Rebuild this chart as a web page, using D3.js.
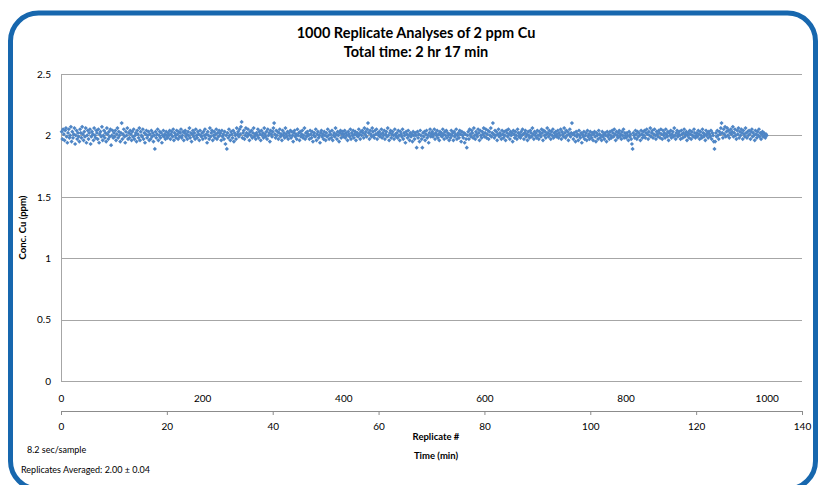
<!DOCTYPE html>
<html>

<head>
    <meta charset="utf-8">
    <title>1000 Replicate Analyses of 2 ppm Cu</title>
    <style>
        body { margin: 0; background: #fff; }
        text { font-family: Lato, "Open Sans", sans-serif; fill: #000; }
    </style>
</head>

<body>
    <svg id="cu_chart" width="820" height="485"></svg>
</body>
<script src="https://cdn.jsdelivr.net/npm/d3@7/dist/d3.min.js"></script>

<script>

    // Cu concentration (ppm) for each replicate, 25 per row
    const concValues = [
        2.03,1.97,2.05,2.01,1.96,2.04,2.06,1.99,1.94,2.02,2.05,1.98,2.00,2.07,1.95,2.03,1.98,2.01,2.06,1.93,2.00,2.04,1.97,2.02,1.99,
        1.95,2.05,2.02,1.98,2.07,2.01,1.96,2.03,1.99,2.06,1.94,2.00,2.04,1.97,2.02,2.05,1.93,1.99,2.03,2.01,1.96,2.06,2.00,1.98,2.04,
        2.02,1.97,2.05,1.94,2.01,2.03,1.99,2.07,1.96,2.00,2.04,1.98,2.02,1.95,2.06,2.01,1.97,2.03,1.99,2.05,1.92,2.00,2.04,1.98,2.02,
        1.99,2.04,1.96,2.01,2.06,1.98,2.03,2.00,1.95,2.02,2.10,1.97,2.01,2.05,1.99,1.94,2.03,2.00,2.06,1.97,2.02,1.98,2.04,2.01,1.96,
        2.03,1.99,2.05,1.97,2.00,2.02,1.95,2.04,2.01,1.98,2.06,1.96,2.03,2.00,1.99,2.05,1.97,2.02,1.94,2.01,2.04,1.98,2.00,2.03,1.96,
        2.01,1.97,2.04,1.99,2.02,1.95,2.00,1.89,2.03,1.98,2.01,2.05,1.96,2.00,2.03,1.98,2.02,1.94,2.00,2.04,1.99,2.01,1.97,2.03,2.00,
        1.98,2.02,2.00,2.04,1.97,2.01,2.03,1.99,2.05,1.96,2.02,2.00,1.98,2.04,2.01,1.97,2.03,1.99,2.02,2.05,1.98,2.00,2.03,1.96,2.02,
        2.04,1.99,2.01,1.97,2.03,2.00,2.06,1.98,2.02,1.95,2.01,2.04,1.99,2.02,1.97,2.05,2.00,1.98,2.03,2.01,1.96,2.04,2.00,1.99,2.02,
        1.97,2.03,2.00,2.05,1.98,2.01,1.94,2.03,2.00,1.97,2.06,1.99,2.02,2.04,1.96,2.00,2.03,1.98,2.01,2.05,1.97,2.02,1.99,2.04,2.00,
        2.02,1.96,2.04,1.99,2.01,1.97,2.03,1.93,2.00,1.89,2.02,1.98,2.05,2.00,1.96,2.03,2.01,1.98,2.04,1.95,2.02,2.00,1.97,2.06,2.01,
        2.03,1.99,2.05,2.01,2.07,2.11,1.98,2.02,2.04,1.97,2.00,2.06,2.02,1.99,2.05,2.01,1.96,2.03,2.00,2.04,1.98,2.02,2.06,1.99,2.01,
        1.97,2.02,2.00,2.05,1.98,2.03,2.01,1.96,2.04,2.00,2.02,1.98,2.06,2.01,1.99,2.03,1.97,2.05,2.00,2.02,1.95,2.04,2.01,1.99,2.03,
        2.06,2.10,2.01,1.98,2.04,2.00,2.03,1.97,2.02,2.05,1.99,2.01,1.96,2.04,2.00,2.02,1.98,2.06,2.01,1.99,2.03,1.97,2.02,2.00,2.04,
        1.98,2.03,2.00,1.95,2.02,2.04,1.99,2.01,1.97,2.05,2.00,2.02,1.96,2.03,1.99,2.01,2.04,1.98,2.00,2.06,1.97,2.02,1.99,2.03,2.01,
        2.00,1.97,2.04,2.01,1.98,2.03,1.95,2.00,2.02,1.99,2.05,1.96,2.01,2.03,1.98,2.00,1.94,2.02,2.04,1.99,2.01,1.97,2.03,2.00,1.96,
        2.02,1.99,2.05,2.00,1.97,2.03,2.01,1.98,2.04,1.96,2.00,2.02,1.99,2.06,2.01,1.97,2.03,2.00,1.95,2.02,2.04,1.98,2.01,2.03,1.99,
        2.01,2.04,1.98,2.02,2.00,1.96,2.03,2.01,1.99,2.05,1.97,2.02,2.00,2.04,1.98,2.01,2.03,1.96,2.00,2.02,1.99,2.05,2.01,1.97,2.03,
        2.00,2.04,2.02,1.98,2.06,2.01,2.03,1.99,2.05,2.10,2.02,1.97,2.04,2.01,1.99,2.06,2.03,2.00,1.98,2.04,2.01,2.05,1.97,2.02,2.00,
        2.03,1.99,2.01,2.05,1.98,2.02,2.00,2.04,1.97,2.01,2.03,1.99,2.06,2.00,1.96,2.02,2.04,1.98,2.01,2.03,2.00,1.97,2.05,2.01,1.99,
        2.02,1.98,2.04,2.00,1.96,2.03,2.01,1.99,2.05,1.97,2.02,2.00,1.94,2.03,2.01,1.98,2.04,2.00,1.96,2.02,1.99,2.01,1.95,2.03,2.00,
        1.97,2.02,2.00,1.90,2.03,1.98,2.01,1.95,2.04,2.00,1.97,1.90,2.02,1.99,2.03,1.96,2.01,2.04,1.98,2.00,1.94,2.02,2.05,1.99,2.01,
        2.03,1.99,2.01,2.05,1.97,2.02,2.00,2.04,1.98,2.01,1.96,2.03,2.00,2.02,1.99,2.05,2.01,1.97,2.03,2.00,2.04,1.98,2.02,2.00,1.96,
        2.01,1.98,2.04,2.00,2.02,1.96,2.03,1.99,2.01,2.05,1.97,2.00,2.02,1.98,2.04,2.01,1.95,2.03,2.00,1.98,2.02,1.94,2.01,1.97,1.90,
        2.00,2.03,1.97,2.05,2.01,1.99,2.04,2.02,1.98,2.06,2.00,1.97,2.03,2.01,1.99,2.05,2.02,1.96,2.04,2.00,1.98,2.03,2.01,2.06,1.99,
        2.02,2.05,1.98,2.01,2.04,1.97,2.03,2.00,2.06,1.99,2.02,2.10,2.01,1.98,2.04,2.00,2.03,1.96,2.01,2.05,1.99,2.02,2.00,1.97,2.04,
        2.01,1.98,2.03,2.00,1.96,2.04,2.02,1.99,2.05,2.01,1.97,2.03,2.00,2.02,1.95,2.04,2.01,1.98,2.03,2.00,1.97,2.05,2.02,1.99,2.01,
        1.98,2.03,2.00,2.05,2.01,1.97,2.02,2.04,1.99,2.01,1.96,2.03,2.00,1.98,2.04,2.02,1.99,2.06,2.01,1.97,2.03,2.00,2.02,1.98,2.04,
        2.00,1.97,2.03,2.01,1.99,2.05,2.02,1.96,2.04,2.00,2.03,1.98,2.01,2.06,2.02,1.99,2.04,2.01,1.97,2.03,2.00,2.05,1.98,2.02,2.00,
        2.03,1.99,2.01,2.04,1.98,2.02,2.00,2.05,1.97,2.03,2.01,1.99,2.06,2.02,1.98,2.04,2.00,2.03,1.96,2.01,2.05,1.99,2.02,2.10,2.01,
        1.97,2.02,2.00,1.95,2.03,1.99,2.01,1.96,2.04,2.00,1.98,2.02,1.94,2.01,1.99,2.03,1.97,2.00,2.02,1.96,2.04,1.99,2.01,1.97,2.03,
        2.00,1.98,2.02,1.96,2.01,2.03,1.99,1.95,2.02,2.00,1.97,2.04,2.01,1.98,2.00,1.96,2.03,1.99,2.01,1.97,2.02,2.00,1.95,2.03,1.99,
        2.01,1.97,2.03,2.00,1.98,2.04,2.02,1.99,2.05,2.01,1.96,2.03,2.00,1.98,2.02,2.04,1.99,2.01,1.97,2.03,2.00,2.05,1.98,2.02,2.00,
        1.98,2.02,2.00,1.96,2.03,1.99,2.01,1.97,1.93,1.89,2.02,2.00,1.98,2.04,2.01,1.97,2.03,1.99,2.02,2.00,1.96,2.04,2.01,1.98,2.03,
        2.00,2.04,1.98,2.02,2.05,2.01,1.97,2.03,2.00,2.06,1.99,2.02,2.04,1.98,2.01,2.05,2.00,1.97,2.03,2.01,1.99,2.04,2.02,1.98,2.05,
        2.01,1.97,2.04,2.00,2.02,1.98,2.05,2.01,1.99,2.03,1.96,2.02,2.00,2.04,1.98,2.01,2.03,1.99,2.06,2.00,1.97,2.02,2.04,1.99,2.01,
        2.03,2.00,1.97,2.04,2.01,1.98,2.02,2.05,1.99,2.01,2.03,1.96,2.00,2.02,1.98,2.04,2.01,1.97,2.03,2.00,1.99,2.05,2.02,1.98,2.00,
        2.02,1.99,2.04,2.01,1.97,2.03,2.00,1.98,2.05,2.02,1.99,2.01,1.96,2.04,2.00,2.02,1.98,2.03,2.01,1.99,2.04,1.97,2.02,2.00,1.95,
        1.89,1.95,2.02,1.99,2.04,2.00,1.97,2.03,2.01,2.06,2.10,2.02,1.98,2.05,2.01,2.07,1.99,2.03,2.06,2.00,2.04,1.98,2.02,2.05,2.01,
        2.03,2.07,1.99,2.02,2.05,2.00,1.97,2.04,2.01,2.06,1.98,2.03,2.00,2.05,2.02,1.97,2.04,2.01,1.99,2.06,2.02,1.98,2.03,2.00,2.04,
        2.01,1.97,2.03,2.05,1.99,2.02,2.00,1.96,2.04,2.01,1.98,2.03,2.00,2.05,1.99,2.02,1.97,2.01,2.03,1.99,2.02,2.00,1.98,2.01,2.00
    ];

    const yTicks = [0, 0.5, 1, 1.5, 2, 2.5];
    const replicateTicks = [0, 200, 400, 600, 800, 1000];
    const timeTicks = [0, 20, 40, 60, 80, 100, 120, 140];

    const titleLines = ["1000 Replicate Analyses of 2 ppm Cu", "Total time: 2 hr 17 min"];
    const notes = ["8.2 sec/sample", "Replicates Averaged: 2.00 \u00b1 0.04"];

    const plot = { left: 61, right: 802, top: 74, bottom: 381 };
    const gridColor = "#a6a6a6";
    const pointColor = "#4f86c6";

    const svg = d3.select("#cu_chart");

    // rounded blue frame
    svg.append("rect")
        .attr("x", 10.5).attr("y", 13)
        .attr("width", 805).attr("height", 476)
        .attr("rx", 28).attr("ry", 28)
        .attr("fill", "none")
        .attr("stroke", "#1767ae")
        .attr("stroke-width", 5);

    let x = d3.scaleLinear().domain([0, 1050]).range([plot.left, plot.right]);
    let xTime = d3.scaleLinear().domain([0, 140]).range([plot.left, plot.right]);
    let y = d3.scaleLinear().domain([0, 2.5]).range([plot.bottom, plot.top]);

    // gridlines + y labels
    const gy = svg.append("g")
        .attr("transform", `translate(${plot.left},0)`)
        .call(d3.axisLeft(y).tickValues(yTicks).tickFormat(d3.format("")).tickSize(-(plot.right - plot.left)).tickPadding(10));
    gy.select(".domain").remove();
    gy.selectAll(".tick line").attr("stroke", gridColor).attr("shape-rendering", "crispEdges");
    gy.selectAll("text").attr("font-size", "10px").attr("font-family", "Lato, sans-serif").attr("fill", "#000");

    svg.append("line")
        .attr("x1", plot.left).attr("x2", plot.left)
        .attr("y1", plot.top).attr("y2", plot.bottom)
        .attr("stroke", gridColor).attr("shape-rendering", "crispEdges");

    // replicate # axis: labels only, sits on the y=0 line
    const gx = svg.append("g")
        .attr("transform", `translate(0,${plot.bottom})`)
        .call(d3.axisBottom(x).tickValues(replicateTicks).tickFormat(d3.format("d")).tickSize(0).tickPadding(14));
    gx.select(".domain").remove();
    gx.selectAll("text").attr("font-size", "10px").attr("font-family", "Lato, sans-serif").attr("fill", "#000");

    // time axis below
    const gt = svg.append("g")
        .attr("transform", `translate(0,411)`)
        .call(d3.axisBottom(xTime).tickValues(timeTicks).tickSizeInner(4).tickSizeOuter(4).tickPadding(8));
    gt.select(".domain").attr("stroke", "#8c8c8c");
    gt.selectAll(".tick line").attr("stroke", "#8c8c8c");
    gt.selectAll("text").attr("font-size", "10px").attr("font-family", "Lato, sans-serif").attr("fill", "#000");

    // points
    const diamond = "M0,-2.1L2.1,0L0,2.1L-2.1,0Z";
    svg.append("g")
        .selectAll("path")
        .data(concValues)
        .join("path")
        .attr("d", diamond)
        .attr("transform", (d, i) => `translate(${x(i + 1)},${y(d)})`)
        .attr("fill", pointColor);

    // titles
    svg.selectAll(".title")
        .data(titleLines)
        .join("text")
        .attr("class", "title")
        .attr("x", 416)
        .attr("y", (d, i) => 38 + i * 19)
        .attr("text-anchor", "middle")
        .attr("font-weight", "bold")
        .attr("font-size", "14.5px")
        .text(d => d);

    svg.append("text")
        .attr("transform", `translate(26,${(plot.top + plot.bottom) / 2}) rotate(-90)`)
        .attr("text-anchor", "middle")
        .attr("font-weight", "bold")
        .attr("font-size", "9.5px")
        .text("Conc. Cu (ppm)");

    svg.append("text")
        .attr("x", 436).attr("y", 440)
        .attr("text-anchor", "middle")
        .attr("font-weight", "bold")
        .attr("font-size", "9.5px")
        .text("Replicate #");
    svg.append("text")
        .attr("x", 436).attr("y", 459)
        .attr("text-anchor", "middle")
        .attr("font-weight", "bold")
        .attr("font-size", "9.5px")
        .text("Time (min)");

    svg.selectAll(".note")
        .data(notes)
        .join("text")
        .attr("class", "note")
        .attr("x", (d, i) => i == 0 ? 27 : 21)
        .attr("y", (d, i) => 453 + i * 20)
        .attr("font-size", "9px")
        .text(d => d);

</script>

</html>
